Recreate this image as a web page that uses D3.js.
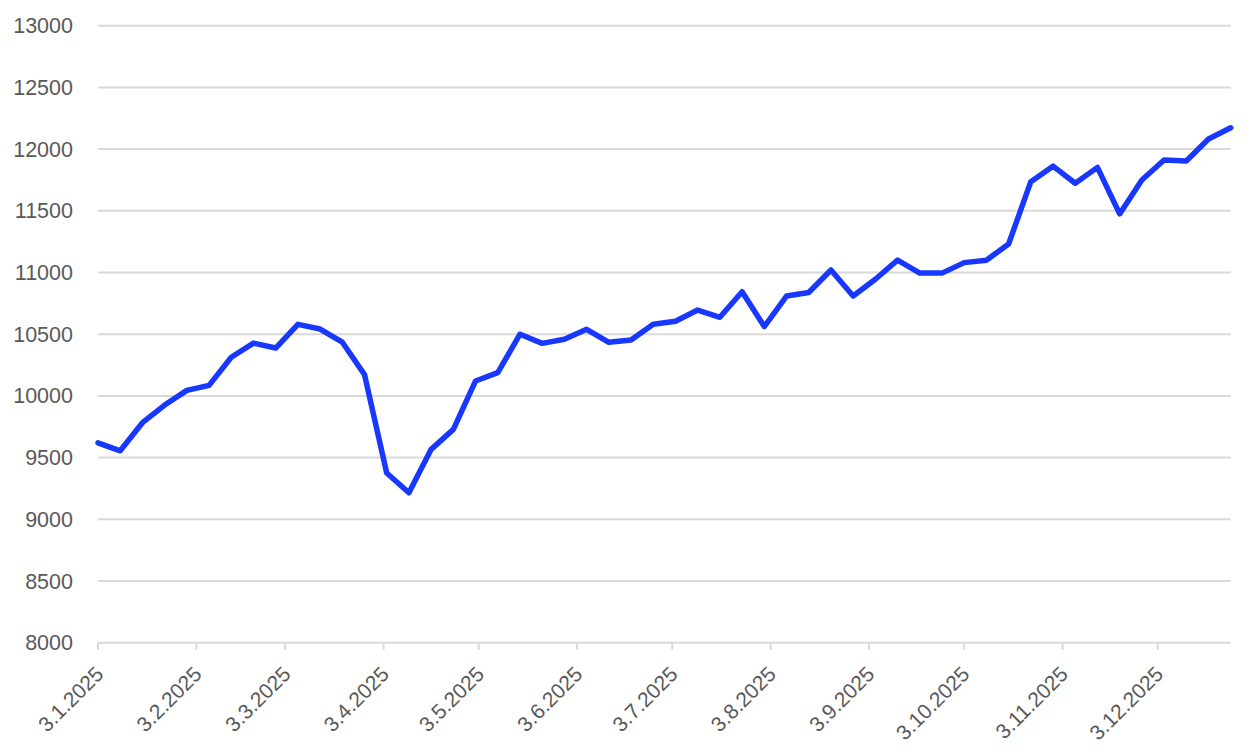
<!DOCTYPE html>
<html>
<head>
<meta charset="utf-8">
<script src="https://cdn.jsdelivr.net/npm/d3@7"></script>
<style>
  html, body { margin: 0; padding: 0; background: #ffffff; }
  svg { display: block; }
</style>
</head>
<body>
<svg id="chart" width="1254" height="752"></svg>
<script>
// ---- data ----
const dates = [
  "2025-01-03","2025-01-10","2025-01-17","2025-01-24","2025-01-31",
  "2025-02-07","2025-02-14","2025-02-21","2025-02-28",
  "2025-03-07","2025-03-14","2025-03-21","2025-03-28",
  "2025-04-04","2025-04-11","2025-04-18","2025-04-25",
  "2025-05-02","2025-05-09","2025-05-16","2025-05-23","2025-05-30",
  "2025-06-06","2025-06-13","2025-06-20","2025-06-27",
  "2025-07-04","2025-07-11","2025-07-18","2025-07-25",
  "2025-08-01","2025-08-08","2025-08-15","2025-08-22","2025-08-29",
  "2025-09-05","2025-09-12","2025-09-19","2025-09-26",
  "2025-10-03","2025-10-10","2025-10-17","2025-10-24","2025-10-31",
  "2025-11-07","2025-11-14","2025-11-21","2025-11-28",
  "2025-12-05","2025-12-12","2025-12-19","2025-12-26"
];
const values = [
  9620, 9555, 9783, 9926, 10045,
  10085, 10313, 10428, 10388,
  10580, 10542, 10435, 10172,
  9375, 9215, 9567, 9729,
  10121, 10188, 10500, 10426, 10459,
  10540, 10434, 10453, 10580,
  10605, 10696, 10637, 10844,
  10562, 10809, 10838, 11020, 10809,
  10945, 11100, 10995, 10995,
  11080, 11100, 11231, 11736, 11862,
  11723, 11852, 11475, 11750,
  11912, 11904, 12082, 12173
];
const xTickDates = [
  "2025-01-03","2025-02-03","2025-03-03","2025-04-03","2025-05-03","2025-06-03",
  "2025-07-03","2025-08-03","2025-09-03","2025-10-03","2025-11-03","2025-12-03"
];
const xTickLabels = [
  "3.1.2025","3.2.2025","3.3.2025","3.4.2025","3.5.2025","3.6.2025",
  "3.7.2025","3.8.2025","3.9.2025","3.10.2025","3.11.2025","3.12.2025"
];
const yTicks = [8000, 8500, 9000, 9500, 10000, 10500, 11000, 11500, 12000, 12500, 13000];

// ---- layout ----
const W = 1254, H = 752;
const margin = { top: 25.7, right: 23.3, bottom: 109.3, left: 98 };
const svg = d3.select("#chart");
const parse = d3.utcParse("%Y-%m-%d");

const data = dates.map((d, i) => ({ date: parse(d), value: values[i] }));

const x = d3.scaleUtc()
  .domain([parse(dates[0]), parse(dates[dates.length - 1])])
  .range([margin.left, W - margin.right]);
const y = d3.scaleLinear()
  .domain([8000, 13000])
  .range([H - margin.bottom, margin.top]);

const textColor = "#595959";
const gridColor = "#d9d9d9";

// gridlines
svg.append("g")
  .selectAll("line")
  .data(yTicks)
  .join("line")
  .attr("x1", margin.left)
  .attr("x2", W - margin.right)
  .attr("y1", d => y(d))
  .attr("y2", d => y(d))
  .attr("stroke", gridColor)
  .attr("stroke-width", 2);

// y labels
svg.append("g")
  .selectAll("text")
  .data(yTicks)
  .join("text")
  .attr("x", 73)
  .attr("y", d => y(d))
  .attr("dy", "0.35em")
  .attr("text-anchor", "end")
  .attr("fill", textColor)
  .style("font-family", "'Liberation Sans', Arial, sans-serif")
  .style("font-size", "21.5px")
  .text(d => d);

// x axis ticks
const xt = xTickDates.map(parse);
const axisY = y(8000);
svg.append("g")
  .selectAll("line")
  .data(xt)
  .join("line")
  .attr("x1", d => x(d))
  .attr("x2", d => x(d))
  .attr("y1", axisY)
  .attr("y2", axisY + 7)
  .attr("stroke", gridColor)
  .attr("stroke-width", 2);

// x labels
svg.append("g")
  .selectAll("text")
  .data(xt)
  .join("text")
  .attr("transform", d => `translate(${x(d) + 1.5},${axisY + 27.5}) rotate(-45)`)
  .attr("dy", "0.35em")
  .attr("text-anchor", "end")
  .attr("fill", textColor)
  .style("font-family", "'Liberation Sans', Arial, sans-serif")
  .style("font-size", "21px")
  .text((d, i) => xTickLabels[i]);

// line
const line = d3.line()
  .x(d => x(d.date))
  .y(d => y(d.value));

svg.append("path")
  .datum(data)
  .attr("d", line)
  .attr("fill", "none")
  .attr("stroke", "#1838ff")
  .attr("stroke-width", 5.5)
  .attr("stroke-linejoin", "round")
  .attr("stroke-linecap", "round");
</script>
</body>
</html>
